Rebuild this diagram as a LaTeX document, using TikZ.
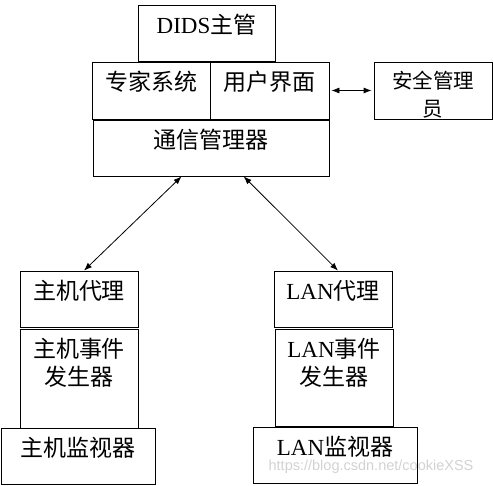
\documentclass[tikz,border=0pt]{standalone}
\usepackage{fontspec}
\setmainfont{Liberation Serif}
\newfontfamily\cjk{Noto Sans CJK SC}
\newfontfamily\wmfont{Liberation Sans}
\usetikzlibrary{arrows.meta}

\begin{document}
\begin{tikzpicture}[x=1pt,y=-1pt,line width=0.8pt]
	\useasboundingbox (0,0) rectangle (493,485);
	\begin{scope}\tikzset{every node/.style={rectangle,draw,inner sep=0pt,minimum width=118pt,minimum height=56pt}}
	\node[minimum width=137pt] (dids) at (206.5,33) {};
	\node[minimum height=57pt] (expert) at (151,90.5) {};
	\node[minimum width=119pt,minimum height=57pt] (ui) at (269.5,90.5) {};
	\node[minimum width=236pt] (comm) at (211,148) {};
	\node[minimum height=57pt] (admin) at (433,90.5) {};
	\node (hostagent) at (79,299) {};
	\node[minimum height=99pt] (hostgen) at (79,378.5) {};
	\node[minimum width=154pt] (hostmon) at (78,456) {};
	\node (lanagent) at (333,299) {};
	\node[minimum height=97pt] (langen) at (334,377.5) {};
	\node[minimum width=164pt] (lanmon) at (335,455) {};
	\end{scope}
	\begin{scope}\tikzset{every node/.style={anchor=north,align=center,inner sep=0pt,yshift=-9pt,font=\fontsize{23pt}{28pt}\selectfont\cjk}}
	\node (didslbl) at (dids.north) {{\rmfamily DIDS}主管};
	\node (expertlbl) at (expert.north) {专家系统};
	\node (uilbl) at (ui.north) {用户界面};
	\node (commlbl) at (comm.north) {通信管理器};
	\node[font=\fontsize{20.5pt}{28pt}\selectfont\cjk] (adminlbl) at (admin.north) {安全管理\\员};
	\node (hostagentlbl) at (hostagent.north) {主机代理};
	\node (hostgenlbl) at (hostgen.north) {主机事件\\发生器};
	\node (hostmonlbl) at (hostmon.north) {主机监视器};
	\node (lanagentlbl) at (lanagent.north) {{\rmfamily LAN}代理};
	\node (langenlbl) at (langen.north) {{\rmfamily LAN}事件\\发生器};
	\node (lanmonlbl) at (lanmon.north) {{\rmfamily LAN}监视器};
	\end{scope}
	\begin{scope}[>={Latex[length=8pt,width=6pt]}]
		\path [<->,shorten <=2pt,shorten >=2pt] (ui.east) edge (admin.west);
		\path [<->] (comm.224) edge (hostagent.80);
		\path [<->] (comm.319) edge (lanagent.80);
	\end{scope}
	\node[text=gray!35,font=\wmfont\fontsize{14.5pt}{16pt}\selectfont] (wm) at (371,467) {https://blog.csdn.net/cookieXSS};
\end{tikzpicture}
\end{document}
